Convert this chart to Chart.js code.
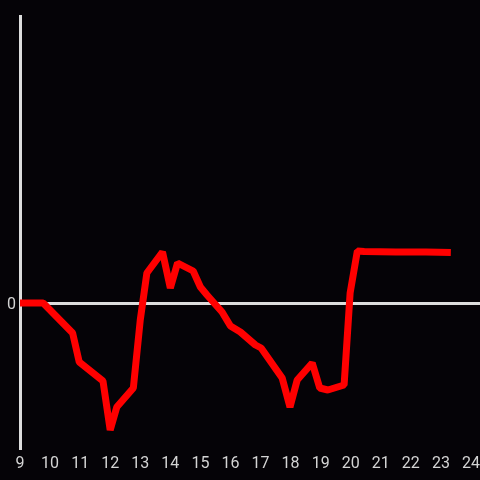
<!DOCTYPE html>
<html>
<head>
<meta charset="utf-8">
<script src="https://cdn.jsdelivr.net/npm/chart.js@4/dist/chart.umd.min.js"></script>
<style>
  html, body { margin: 0; padding: 0; background: #050307; }
  #wrap { width: 480px; height: 480px; }
</style>
</head>
<body>
<div id="wrap"><canvas id="chart"></canvas></div>
<script>
// hour of day
const hours = [9, 9.77, 10.75, 10.97, 11.76, 12.0, 12.22, 12.77, 13.0, 13.22, 13.74, 14.0, 14.24, 14.76, 15.0, 15.22, 15.72, 16.0, 16.33, 16.83, 17.02, 17.72, 17.98, 18.22, 18.72, 18.97, 19.24, 19.78, 19.98, 20.22, 20.45, 21.5, 22.5, 23.33];
// value relative to zero line
const values = [0, 0, -0.30, -0.59, -0.78, -1.27, -1.04, -0.85, -0.17, 0.30, 0.51, 0.15, 0.40, 0.32, 0.16, 0.08, -0.09, -0.23, -0.29, -0.42, -0.45, -0.75, -1.04, -0.77, -0.60, -0.85, -0.87, -0.82, 0.10, 0.52, 0.515, 0.51, 0.51, 0.505];
const yTicks = [0];

const points = hours.map((h, i) => ({ x: h, y: values[i] }));

new Chart(document.getElementById('chart'), {
  type: 'line',
  data: {
    datasets: [{
      data: points,
      borderColor: '#ff0000',
      borderWidth: 7,
      borderCapStyle: 'butt',
      borderJoinStyle: 'bevel',
      pointRadius: 0,
      tension: 0
    }]
  },
  options: {
    responsive: true,
    maintainAspectRatio: false,
    animation: false,
    layout: { padding: { top: 16, left: 0, right: 0, bottom: 0 } },
    plugins: { legend: { display: false }, tooltip: { enabled: false } },
    scales: {
      x: {
        type: 'linear',
        min: 9,
        max: 24.3,
        afterFit: s => { s.height = 32; s.paddingLeft = 0; s.paddingRight = 0; },
        grid: { display: false },
        border: { display: false },
        ticks: {
          stepSize: 1,
          includeBounds: false,
          color: '#d4d4d4',
          padding: -2,
          maxRotation: 0,
          autoSkip: false,
          font: { family: 'Roboto', size: 16 }
        }
      },
      y: {
        min: -1.45,
        max: 2.87,
        afterFit: s => { s.width = 20; s.paddingTop = 0; s.paddingBottom = 0; },
        afterBuildTicks: s => { s.ticks = yTicks.map(v => ({ value: v })); },
        grid: { color: '#dddddd', lineWidth: 3, drawTicks: false },
        border: { display: true, color: '#dddddd', width: 3 },
        ticks: {
          color: '#d4d4d4',
          padding: 4,
          labelOffset: 2,
          font: { family: 'Roboto', size: 16 }
        }
      }
    }
  }
});
</script>
</body>
</html>
